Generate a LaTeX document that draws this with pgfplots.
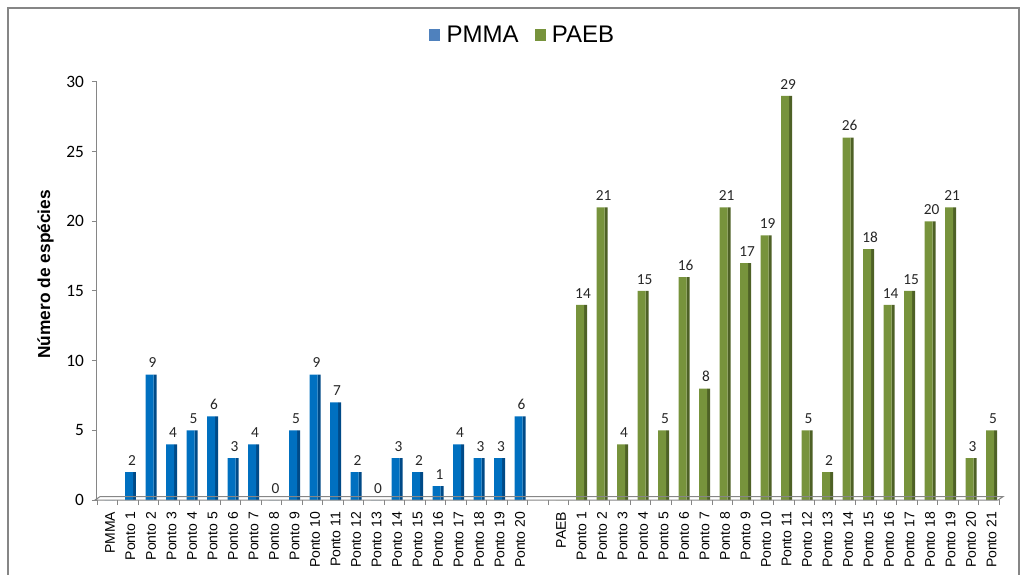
\documentclass[border=0pt]{standalone}
\usepackage{fontspec}
\setmainfont{Liberation Sans}
\newfontfamily\calfont{Carlito}
\usepackage{pgfplots}
\pgfplotsset{compat=1.18}
\definecolor{bfront}{RGB}{0,112,192}
\definecolor{bside}{RGB}{0,74,135}
\definecolor{gfront}{RGB}{119,147,60}
\definecolor{gside}{RGB}{78,97,38}
\definecolor{axgray}{RGB}{134,134,134}
\definecolor{legblue}{RGB}{79,129,189}
\definecolor{leggreen}{RGB}{119,147,60}
\begin{document}
\begin{tikzpicture}[x=0.75pt,y=0.75pt]
\useasboundingbox (-97,-74) rectangle (926,500);
\draw[axgray, line width=0.9pt] (-89,-120) rectangle (922,492);
\begin{axis}[
  at={(0,0)}, anchor=south west, scale only axis,
  width=677.25pt, height=313.5pt,
  xmin=-0.634, xmax=43.41, ymin=0, ymax=30,
  clip=false,
  /pgf/number format/assume math mode=true,
  axis x line*=bottom,
  axis y line*=left,
  axis line style={axgray, line width=0.75pt},
  x axis line style={draw=none},
  ytick={0,5,...,30},
  tick align=outside,
  major tick length=3.75pt,
  minor tick length=3.75pt,
  y tick style={axgray, line width=0.75pt},
  major x tick style={draw=none},
  minor x tick style={axgray, line width=0.75pt},
  yticklabel style={font=\calfont\fontsize{13}{15}\selectfont, text=black, xshift=-2.5pt},
  xtick={0,...,43},
  xticklabels={PMMA,Ponto 1,Ponto 2,Ponto 3,Ponto 4,Ponto 5,Ponto 6,Ponto 7,Ponto 8,Ponto 9,Ponto 10,Ponto 11,Ponto 12,Ponto 13,Ponto 14,Ponto 15,Ponto 16,Ponto 17,Ponto 18,Ponto 19,Ponto 20,{},PAEB,Ponto 1,Ponto 2,Ponto 3,Ponto 4,Ponto 5,Ponto 6,Ponto 7,Ponto 8,Ponto 9,Ponto 10,Ponto 11,Ponto 12,Ponto 13,Ponto 14,Ponto 15,Ponto 16,Ponto 17,Ponto 18,Ponto 19,Ponto 20,Ponto 21},
  minor xtick={-0.63,0.37,...,43.4},
  xticklabel style={rotate=90, anchor=east, font=\fontsize{10.5}{12}\selectfont, text=black, inner sep=0pt, xshift=-5pt},
  ylabel={\bfseries Número de espécies},
  ylabel style={at={(axis description cs:-0.057,0.54)}, anchor=center, font=\fontsize{13}{15}\selectfont},
  legend style={at={(0.4718,1.1124)}, anchor=center, draw=none, fill=none,
    legend columns=2, font=\fontsize{18}{20}\selectfont,
    /tikz/every odd column/.append style={column sep=3pt},
    /tikz/every even column/.append style={column sep=10pt}},
  legend cell align=left,
]
\addlegendimage{legend image code/.code={\fill[legblue] (0pt,-4pt) rectangle (7.5pt,4pt);}}
\addlegendentry{PMMA}
\addlegendimage{legend image code/.code={\fill[leggreen] (0pt,-4pt) rectangle (7.5pt,4pt);}}
\addlegendentry{PAEB}

% side faces
\addplot[forget plot, ybar, bar shift=3pt, bar width=2.25pt, fill=bside, draw=none]
 coordinates {(0,0) (1,2) (2,9) (3,4) (4,5) (5,6) (6,3) (7,4) (8,0) (9,5) (10,9) (11,7) (12,2) (13,0) (14,3) (15,2) (16,1) (17,4) (18,3) (19,3) (20,6)};
\addplot[forget plot, ybar, bar shift=3pt, bar width=2.25pt, fill=gside, draw=none]
 coordinates {(22,0) (23,14) (24,21) (25,4) (26,15) (27,5) (28,16) (29,8) (30,21) (31,17) (32,19) (33,29) (34,5) (35,2) (36,26) (37,18) (38,14) (39,15) (40,20) (41,21) (42,3) (43,5)};
% front faces
\addplot[forget plot, ybar, bar shift=-1.1pt, bar width=6pt, fill=bfront, draw=none,
  point meta=explicit symbolic, nodes near coords,
  every node near coord/.append style={font=\calfont\fontsize{11.5}{13}\selectfont, text=black!85, xshift=1.1pt, yshift=1.5pt}]
 coordinates {(0,0)[] (1,2)[2] (2,9)[9] (3,4)[4] (4,5)[5] (5,6)[6] (6,3)[3] (7,4)[4] (8,0)[0] (9,5)[5] (10,9)[9] (11,7)[7] (12,2)[2] (13,0)[0] (14,3)[3] (15,2)[2] (16,1)[1] (17,4)[4] (18,3)[3] (19,3)[3] (20,6)[6]};
\addplot[forget plot, ybar, bar shift=-1.1pt, bar width=6pt, fill=gfront, draw=none,
  point meta=explicit symbolic, nodes near coords,
  every node near coord/.append style={font=\calfont\fontsize{11.5}{13}\selectfont, text=black!85, xshift=1.1pt, yshift=1.5pt}]
 coordinates {(22,0)[] (23,14)[14] (24,21)[21] (25,4)[4] (26,15)[15] (27,5)[5] (28,16)[16] (29,8)[8] (30,21)[21] (31,17)[17] (32,19)[19] (33,29)[29] (34,5)[5] (35,2)[2] (36,26)[26] (37,18)[18] (38,14)[14] (39,15)[15] (40,20)[20] (41,21)[21] (42,3)[3] (43,5)[5]};

% floor
\draw[axgray, line width=0.75pt] (axis cs:-0.73,0) -- (axis cs:43.32,0) -- ++(3.75pt,2.6pt) -- ++(-677.25pt,0pt) -- cycle;
\end{axis}
\end{tikzpicture}
\end{document}
